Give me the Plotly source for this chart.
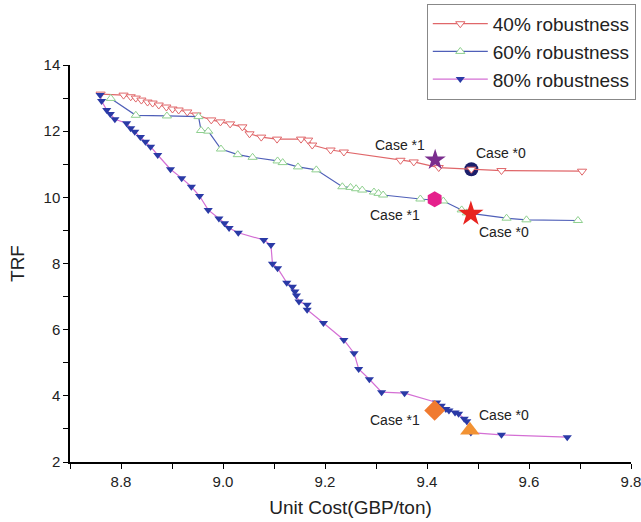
import plotly.graph_objects as go

# 40% robustness
r40_x = [8.76, 8.805, 8.819, 8.829, 8.84, 8.852, 8.862, 8.874, 8.889, 8.901, 8.913, 8.93, 8.948,
         8.977, 8.995, 9.014, 9.038, 9.052, 9.075, 9.106, 9.153, 9.167, 9.175, 9.211, 9.237,
         9.348, 9.374, 9.423, 9.487, 9.546, 9.704]
r40_y = [13.12, 13.09, 13.04, 13.0, 12.94, 12.88, 12.85, 12.79, 12.73, 12.67, 12.64, 12.58, 12.49,
         12.34, 12.28, 12.22, 12.13, 11.92, 11.82, 11.76, 11.76, 11.73, 11.58, 11.43, 11.37,
         11.12, 11.07, 10.90, 10.85, 10.81, 10.79]

# 60% robustness
g60_x = [8.78, 8.829, 8.89, 8.952, 8.957, 8.971, 8.996, 9.029, 9.058, 9.107, 9.117, 9.147, 9.183,
         9.234, 9.25, 9.261, 9.273, 9.296, 9.305, 9.314, 9.387, 9.432, 9.468, 9.478, 9.556,
         9.595, 9.696]
g60_y = [12.99, 12.48, 12.46, 12.44, 12.02, 12.0, 11.46, 11.29, 11.21, 11.10, 11.05, 10.92, 10.83,
         10.32, 10.30, 10.26, 10.22, 10.16, 10.12, 10.07, 9.95, 9.89, 9.62, 9.53, 9.37,
         9.32, 9.30]

# 80% robustness
b80_x = [8.759, 8.762, 8.772, 8.779, 8.788, 8.811, 8.819, 8.827, 8.838, 8.848, 8.858, 8.872, 8.897,
         8.919, 8.938, 8.954, 8.971, 8.992, 9.003, 9.012, 9.03, 9.08, 9.094, 9.097, 9.107, 9.125,
         9.136, 9.141, 9.144, 9.149, 9.165, 9.165, 9.197, 9.237, 9.257, 9.266, 9.287, 9.311,
         9.356, 9.419, 9.428, 9.437, 9.443, 9.455, 9.462, 9.473, 9.478, 9.486, 9.546, 9.675]
b80_y = [13.09, 12.91, 12.64, 12.52, 12.36, 12.24, 12.09, 11.98, 11.82, 11.68, 11.53, 11.28, 10.85,
         10.58, 10.32, 10.04, 9.62, 9.36, 9.22, 9.07, 8.93, 8.71, 8.56, 7.99, 7.86, 7.42,
         7.30, 7.15, 7.03, 6.85, 6.75, 6.60, 6.20, 5.69, 5.29, 4.81, 4.50, 4.11,
         4.08, 3.80, 3.70, 3.60, 3.56, 3.50, 3.46, 3.31, 3.23, 2.89, 2.82, 2.75]

# Case markers
case_x = [9.416, 9.487, 9.415, 9.486, 9.415, 9.484]
case_y = [11.13, 10.85, 9.94, 9.50, 3.56, 2.96]
case_symbols = ["star", "circle", "hexagon", "star", "diamond", "triangle-up"]
case_colors = ["#7a2e8e", "#1c1f6b", "#e5208c", "#e8231f", "#f07a30", "#f29233"]
case_sizes = [16, 14, 16, 19, 16, 17]

# Case labels
label_text = ["Case *1", "Case *0", "Case *1", "Case *0", "Case *1", "Case *0"]
label_x = [9.348, 9.546, 9.338, 9.55, 9.338, 9.55]
label_y = [11.58, 11.33, 9.47, 8.96, 3.27, 3.43]

font_family = "Liberation Sans, Arial, sans-serif"

fig = go.Figure()

# circle case drawn under the series
fig.add_trace(go.Scatter(x=[case_x[1]], y=[case_y[1]], mode="markers", showlegend=False,
                         marker=dict(symbol=case_symbols[1], color=case_colors[1],
                                     size=case_sizes[1], line=dict(width=0))))

fig.add_trace(go.Scatter(x=r40_x, y=r40_y, mode="lines+markers", name="40% robustness",
                         line=dict(color="#e0676a", width=1.2),
                         marker=dict(symbol="triangle-down", size=8, color="white",
                                     line=dict(color="#e0676a", width=1))))
fig.add_trace(go.Scatter(x=g60_x, y=g60_y, mode="lines+markers", name="60% robustness",
                         line=dict(color="#4f5fb8", width=1.2),
                         marker=dict(symbol="triangle-up", size=8, color="white",
                                     line=dict(color="#8fd08f", width=1))))
fig.add_trace(go.Scatter(x=b80_x, y=b80_y, mode="lines+markers", name="80% robustness",
                         line=dict(color="#d46fd4", width=1.2),
                         marker=dict(symbol="triangle-down", size=8, color="#2a3aa6",
                                     line=dict(width=0))))

for i in [0, 2, 3, 4, 5]:
    fig.add_trace(go.Scatter(x=[case_x[i]], y=[case_y[i]], mode="markers", showlegend=False,
                             marker=dict(symbol=case_symbols[i], color=case_colors[i],
                                         size=case_sizes[i], line=dict(width=0))))

for t, x, y in zip(label_text, label_x, label_y):
    fig.add_annotation(x=x, y=y, text=t, showarrow=False, xanchor="center",
                       font=dict(size=14, color="#222222", family=font_family))

axis_common = dict(showline=True, linecolor="black", linewidth=1.5, ticks="outside",
                   ticklen=5, tickwidth=1.2, tickcolor="black", showgrid=False,
                   zeroline=False, mirror=False, ticklabeloverflow="allow",
                   tickfont=dict(size=15, color="#222222", family=font_family))

fig.update_xaxes(range=[8.7, 9.8], tick0=8.8, dtick=0.2, tickformat=".1f",
                 minor=dict(dtick=0.1, ticks="outside", ticklen=5, tickcolor="black", tickwidth=1.2),
                 title=dict(text="Unit Cost(GBP/ton)", font=dict(size=19, color="#222222", family=font_family),
                            standoff=12),
                 **axis_common)
fig.update_yaxes(range=[2, 14], tick0=2, dtick=2,
                 minor=dict(dtick=1, ticks="outside", ticklen=5, tickcolor="black", tickwidth=1.2),
                 title=dict(text="TRF", font=dict(size=19, color="#222222", family=font_family),
                            standoff=14),
                 **axis_common)

fig.update_layout(
    width=641, height=522,
    margin=dict(l=70, r=10, t=65, b=60, autoexpand=False),
    plot_bgcolor="white", paper_bgcolor="white",
    font=dict(family=font_family),
    hovermode=False,
    legend=dict(x=0.636, y=1.154, xanchor="left", yanchor="top",
                bordercolor="#888888", borderwidth=1, bgcolor="white",
                font=dict(size=19, color="#222222", family=font_family),
                tracegroupgap=0, itemwidth=55),
)

fig.write_html(
    "out.html",
    config={"displayModeBar": False},
    post_script="document.body.style.margin='0';document.documentElement.style.overflow='hidden';document.body.style.overflow='hidden';",
)
